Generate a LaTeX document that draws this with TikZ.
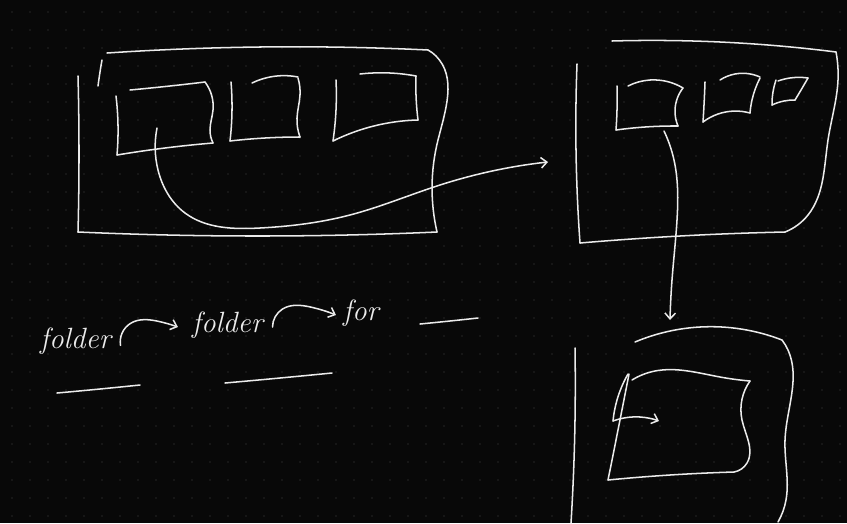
\documentclass[tikz,border=0pt]{standalone}
\usepackage{tikz}
\usetikzlibrary{hobby}
\usetikzlibrary{arrows.meta}

\definecolor{board}{RGB}{8,8,8}
\definecolor{chalk}{RGB}{235,235,235}
\definecolor{griddot}{RGB}{70,70,70}

\tikzset{
  pen/.style={draw=chalk, line width=1.3pt, line cap=round, line join=round, use Hobby shortcut},
  penarrow/.style={pen, -{Straight Barb[length=5pt,width=9pt]}},
  scribble/.style={text=chalk, font=\itshape\fontsize{25}{27}\selectfont, inner sep=0pt}
}

\begin{document}
\begin{tikzpicture}[x=0.03cm,y=-0.03cm]
    \fill[board] (0,0) rectangle (847,523);
    \useasboundingbox (0,0) rectangle (847,523);
    \foreach \x in {12,30,...,840}
      \foreach \y in {12,30,...,520}
        \fill[griddot] (\x,\y) circle (0.45pt);

    % left folder
    \draw[pen] (107,53) .. (260,47) .. (428,50);
    \draw[pen] (428,50) .. (436,56) .. (438,140) .. (437,232);
    \draw[pen] (78,76) .. (79,150) .. (78,232);
    \draw[pen] (78,232) .. (260,236) .. (437,232);
    \draw[pen] (102,60) .. (100,72) .. (98,86);
    \draw[pen] (130,90) .. (170,86) .. (205,82);
    \draw[pen] (205,82) .. (213,110) .. (210,130) .. (213,143);
    \draw[pen] (116,96) .. (118,125) .. (117,155);
    \draw[pen] (117,155) .. (165,148) .. (213,143);
    \draw[pen] (231,82) .. (232,110) .. (230,141);
    \draw[pen] (230,141) .. (265,138) .. (300,137);
    \draw[pen] (300,137) .. (297,118) .. (300,95) .. (298,78);
    \draw[pen] (252,83) .. (270,77) .. (298,77);
    \draw[pen] (336,80) .. (336,110) .. (333,141);
    \draw[pen] (333,141) .. (370,127) .. (418,120);
    \draw[pen] (418,120) .. (416,95) .. (416,76);
    \draw[pen] (360,74) .. (390,73) .. (416,76);
    \draw[penarrow] (157,128) .. (158,170) .. (185,213) .. (260,228) .. (350,215) .. (440,185) .. (548,162);

    % right folder
    \draw[pen] (612,41) .. (720,42) .. (836,52);
    \draw[pen] (836,52) .. (838,80) .. (828,140) .. (808,215) .. (785,232);
    \draw[pen] (577,64) .. (576,150) .. (580,243);
    \draw[pen] (580,243) .. (680,236) .. (785,232);
    \draw[pen] (617,86) .. (617,110) .. (616,130);
    \draw[pen] (616,130) .. (645,127) .. (678,126);
    \draw[pen] (678,126) .. (675,110) .. (683,88);
    \draw[pen] (628,86) .. (650,80) .. (683,88);
    \draw[pen] (705,82) .. (704,105) .. (703,122);
    \draw[pen] (703,122) .. (718,114) .. (750,113);
    \draw[pen] (750,113) .. (752,100) .. (760,78);
    \draw[pen] (720,80) .. (735,74) .. (760,77);
    \draw[pen] (776,80) .. (773,92) .. (772,105);
    \draw[pen] (772,105) .. (784,101) .. (795,100);
    \draw[pen] (795,100) .. (801,90) .. (808,78);
    \draw[pen] (778,81) .. (790,78) .. (808,78);
    \draw[penarrow] (664,131) .. (674,160) .. (677,220) .. (672,280) .. (670,320);

    % nested folder
    \draw[pen] (635,342) .. (700,327) .. (782,340);
    \draw[pen] (782,340) .. (788,350) .. (785,440) .. (786,500) .. (778,522);
    \draw[pen] (575,348) .. (575,420) .. (571,523);
    \draw[pen] (632,380) .. (655,371) .. (720,377) .. (750,381);
    \draw[pen] (750,381) .. (742,420) .. (747,463) .. (734,472);
    \draw[pen] (608,480) .. (670,475) .. (734,472);
    \draw[pen] (629,374) .. (618,430) .. (608,480);
    \draw[pen] (628,374) .. (617,400) .. (613,421);
    \draw[penarrow] (613,421) .. (640,417) .. (659,421);

    % notes
    \node[scribble, anchor=base west] (fa) at (40,348) {folder};
    \node[scribble, anchor=base west] (fb) at (192,332) {folder};
    \node[scribble, anchor=base west] (fc) at (343,320) {for};
    \draw[penarrow] ([xshift=8pt,yshift=-4pt]fa.east) .. ++(10,-22) .. ++(28,-2) .. ([xshift=-12pt,yshift=-2pt]fb.west);
    \draw[penarrow] ([xshift=8pt,yshift=-2pt]fb.east) .. ++(10,-18) .. ++(28,-2) .. ([xshift=-6pt,yshift=-2pt]fc.west);
    \draw[pen] (420,324) .. (450,321) .. (478,318);
    \draw[pen] (57,393) .. (100,389) .. (140,385);
    \draw[pen] (225,383) .. (280,378) .. (332,373);
\end{tikzpicture}
\end{document}
